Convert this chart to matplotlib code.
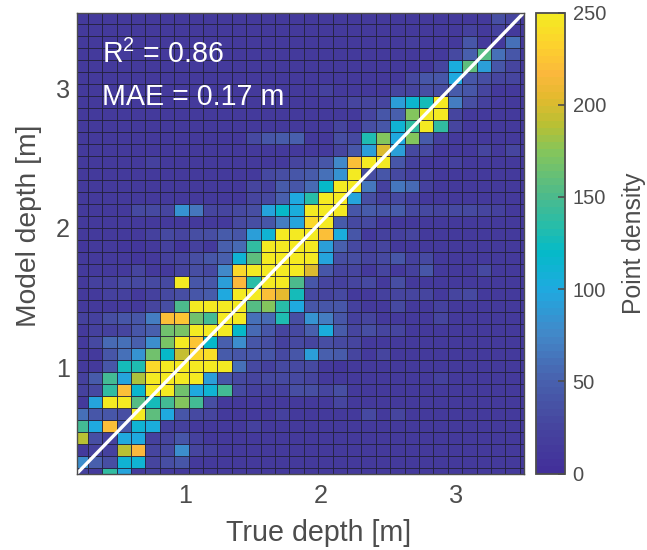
import numpy as np
import matplotlib
matplotlib.use("Agg")
import matplotlib.pyplot as plt
from matplotlib.colors import LinearSegmentedColormap

plt.rcParams['font.family'] = ['Liberation Sans', 'DejaVu Sans']
plt.rcParams['mathtext.fontset'] = 'custom'
plt.rcParams['mathtext.rm'] = 'Liberation Sans'
plt.rcParams['mathtext.default'] = 'regular'

# Point density per cell, top row first
density = [
 [12,12,12,12,12,12,12,12,12,12,12,12,12,12,12,12,12,12,12,12,12,12,12,12,12,12,12,12,15,35,25,15],
 [12,12,12,12,12,12,12,12,12,12,12,12,12,12,12,12,12,12,12,12,12,12,12,12,12,12,12,20,15,20,15,12],
 [12,12,12,12,12,12,12,12,12,12,12,12,12,12,12,12,12,12,12,12,12,12,12,18,12,12,12,40,15,15,60,15],
 [12,12,12,12,12,12,12,12,12,12,12,12,12,12,12,12,12,12,12,12,12,12,12,12,12,12,30,50,155,60,40,15],
 [12,12,12,12,12,12,12,12,12,12,12,12,12,12,12,12,12,12,12,12,12,12,12,12,12,25,105,160,90,40,25,12],
 [12,12,12,12,12,12,12,12,12,12,12,12,12,12,12,12,12,12,12,12,12,12,15,30,40,40,100,40,35,25,25,12],
 [12,12,12,12,12,12,12,12,12,12,12,12,12,12,12,12,12,20,12,12,12,12,25,25,35,35,45,40,25,12,12,12],
 [12,12,12,12,12,12,12,12,12,12,12,12,12,12,12,12,12,12,18,25,25,25,90,115,125,250,70,35,20,12,12,12],
 [12,12,12,12,12,12,12,12,12,12,12,12,12,12,12,12,12,12,12,15,25,40,50,175,250,250,25,15,12,12,12,12],
 [12,12,12,12,12,12,12,12,12,12,12,12,12,12,12,12,12,12,25,15,35,40,110,140,250,140,25,12,12,12,12,12],
 [12,12,12,12,12,12,12,12,12,12,12,12,30,40,45,50,15,15,35,30,130,175,100,175,45,20,12,12,12,12,12,12],
 [12,12,12,12,12,12,12,12,12,12,12,12,12,12,12,12,12,12,25,40,90,200,90,30,30,15,15,15,25,15,25,15],
 [12,12,12,12,12,20,12,12,12,12,12,12,12,12,12,25,30,40,75,220,250,250,40,20,15,12,20,12,12,12,12,12],
 [12,12,12,12,12,12,12,12,12,12,12,12,12,30,35,40,45,60,85,250,35,40,30,20,20,12,12,12,12,12,12,12],
 [12,12,12,12,12,12,12,12,12,12,12,15,25,20,45,40,55,120,250,250,65,20,65,55,20,15,12,12,12,12,12,12],
 [12,12,12,12,12,12,12,12,12,12,15,15,25,30,50,100,135,250,250,95,35,20,30,20,15,15,12,12,12,12,12,12],
 [12,15,12,12,30,30,25,85,65,25,25,30,35,95,120,105,250,250,250,40,45,40,45,30,30,25,30,30,25,20,15,12],
 [12,12,12,12,12,12,12,12,12,12,15,30,35,40,70,95,235,250,45,30,30,15,15,12,12,12,12,12,12,12,12,12],
 [12,12,12,12,12,20,30,25,35,35,45,40,90,110,250,250,250,220,105,40,15,20,20,25,15,12,12,12,12,12,12,12],
 [10,15,12,10,10,15,20,10,20,15,50,55,140,250,250,250,250,90,50,30,20,25,15,12,12,12,12,12,12,12,12,12],
 [15,15,15,15,10,15,20,25,35,40,50,110,160,250,250,250,250,95,35,35,25,30,40,20,30,15,15,15,15,15,15,12],
 [15,15,15,15,25,15,12,25,35,30,75,235,250,250,250,250,200,40,25,25,15,25,15,20,40,15,15,15,30,15,15,12],
 [15,20,20,30,30,30,30,250,40,40,90,215,135,250,250,150,40,25,20,25,30,15,35,12,15,15,15,15,15,15,15,12],
 [15,15,20,20,15,20,30,35,40,45,100,250,250,220,205,125,30,25,30,15,12,20,25,25,25,15,25,30,15,15,15,12],
 [15,15,15,12,15,25,35,150,250,250,250,250,155,175,135,100,40,40,40,20,12,15,30,15,12,20,15,15,15,15,15,12],
 [20,20,35,40,40,70,220,225,165,145,250,250,60,55,130,35,85,70,40,20,25,15,15,15,15,25,15,15,15,15,15,12],
 [15,20,20,25,40,50,165,170,250,250,250,120,55,40,25,30,50,105,45,25,35,25,25,15,15,15,15,15,15,15,15,12],
 [15,30,55,60,50,80,170,250,225,120,50,80,40,35,20,30,25,35,30,25,12,15,15,12,12,12,12,12,12,12,12,12],
 [15,12,40,60,85,165,120,195,235,240,45,40,40,40,30,40,90,50,45,25,15,25,15,12,12,12,12,12,12,12,12,12],
 [15,12,40,125,130,235,250,250,250,250,250,60,30,20,30,30,30,12,10,12,12,12,12,12,12,12,12,12,12,12,12,12],
 [20,45,145,95,185,250,250,250,250,90,40,30,25,30,30,30,25,12,12,12,12,12,12,12,12,20,12,12,12,12,12,12],
 [20,30,140,220,115,250,250,165,100,110,145,30,20,20,20,35,35,25,35,12,12,12,12,12,12,12,12,12,12,12,12,12],
 [15,95,250,250,155,125,145,175,145,35,15,15,12,15,15,12,12,12,25,12,12,12,12,12,12,12,12,12,12,12,12,12],
 [60,40,40,35,250,160,100,40,30,25,15,12,12,12,20,12,12,12,12,12,30,12,25,12,12,12,12,12,12,12,12,12],
 [145,100,220,40,110,105,20,20,15,15,15,15,20,15,12,12,12,12,12,12,12,12,12,12,12,12,12,12,12,12,12,12],
 [190,35,20,100,100,20,25,40,20,12,15,12,12,15,15,12,12,12,12,12,12,12,12,12,12,12,12,12,12,12,12,12],
 [15,20,20,190,215,25,30,80,25,20,15,12,15,12,12,12,12,12,12,12,12,12,12,12,12,12,12,12,12,12,12,12],
 [80,50,35,110,110,25,35,40,12,12,12,12,12,12,12,12,12,12,12,12,12,12,12,12,12,12,12,12,12,12,12,12],
 [20,15,140,95,15,20,12,12,12,12,12,12,12,12,12,12,12,12,12,12,12,12,12,12,12,12,12,12,12,12,12,12],
]
x_ticks = [1, 2, 3]
y_ticks = [1, 2, 3]
cbar_ticks = [0, 50, 100, 150, 200, 250]
x_label = "True depth [m]"
y_label = "Model depth [m]"
cbar_label = "Point density"
x_limits = (0.2, 3.5)
y_limits = (0.2357, 3.5415)
x_bin_start, x_bin_width = 0.1764, 0.1062
y_bin_start, y_bin_width = 0.1927, 0.08596

cmap = LinearSegmentedColormap.from_list("parula_soft", [
    (0/250, "#42309a"), (25/250, "#46469f"), (50/250, "#4862ae"), (75/250, "#4288c9"),
    (100/250, "#1eaae0"), (120/250, "#05bac8"), (135/250, "#28bda8"), (150/250, "#4aba8e"),
    (175/250, "#84c55c"), (190/250, "#b8c034"), (205/250, "#e4ba2e"), (218/250, "#fbb83c"),
    (235/250, "#fdd32c"), (250/250, "#f4ea22")], N=64)

W, H = 647, 550
INK = "#4d4d4d"
fig = plt.figure(figsize=(W/100, H/100), dpi=100, facecolor="white")
ax = fig.add_axes([76.5/W, 1-474/H, 447.5/W, 461.5/H])
data = np.array(density, dtype=float)[::-1]
x_edges = x_bin_start + x_bin_width*np.arange(data.shape[1]+1)
y_edges = y_bin_start + y_bin_width*np.arange(data.shape[0]+1)
mesh = ax.pcolormesh(x_edges, y_edges, data, cmap=cmap, vmin=0, vmax=250,
                     edgecolors="#201e38", linewidth=0.55, antialiased=True)
ax.plot(x_limits, y_limits, color="white", lw=2.4, solid_capstyle="butt")
ax.set_xlim(x_limits)
ax.set_ylim(y_limits)
ax.set_xticks(x_ticks)
ax.set_yticks(y_ticks)
ax.tick_params(length=0, labelsize=18.2, labelcolor=INK)
ax.tick_params(axis="x", pad=7.5)
ax.tick_params(axis="y", pad=4.7)
ax.set_xlabel(x_label, fontsize=20.6, color=INK, va="baseline")
ax.xaxis.set_label_coords(0.54, -0.1445)
ax.set_ylabel(y_label, fontsize=20.3, color=INK, va="baseline")
ax.yaxis.set_label_coords(-0.0905, 0.5385)
for s in ax.spines.values():
    s.set_color(INK)
    s.set_linewidth(1.0)
ax.text(0.0575, 0.8906, r"R$^2$ = 0.86", transform=ax.transAxes, color="white", fontsize=20.6, va="baseline")
ax.text(0.0575, 0.7985, "MAE = 0.17 m", transform=ax.transAxes, color="white", fontsize=20.6, va="baseline")

cax = fig.add_axes([536/W, 1-473.5/H, 29/W, 461/H])
cb = fig.colorbar(mesh, cax=cax)
cb.set_ticks(cbar_ticks)
cb.outline.set_edgecolor(INK)
cb.outline.set_linewidth(1.3)
cax.tick_params(direction="in", length=5, width=1.2, color=INK, labelsize=14.5, labelcolor=INK, pad=5.5)
cb.set_label(cbar_label, fontsize=17.8, color=INK, labelpad=11.5)
fig.savefig("out.png", dpi=100)
